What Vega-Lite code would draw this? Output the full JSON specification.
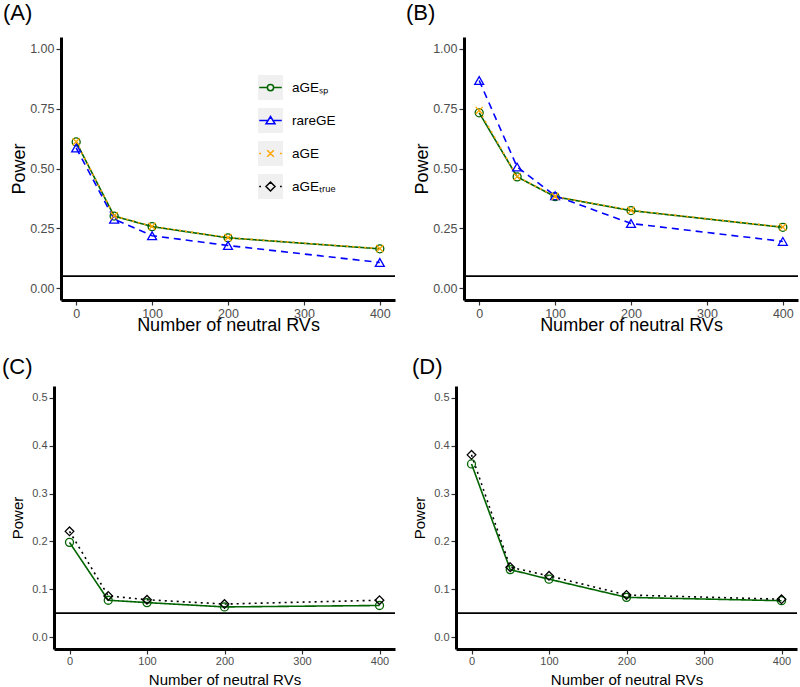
{
  "$schema": "https://vega.github.io/schema/vega-lite/v6.json",
  "padding": {"left": 2, "top": 1, "right": 0, "bottom": 0},
  "datasets": {
    "pw": [
      {"panel": "A", "method": "aGEsp", "x": 0, "power": 0.611},
      {"panel": "A", "method": "aGEsp", "x": 50, "power": 0.301},
      {"panel": "A", "method": "aGEsp", "x": 100, "power": 0.257},
      {"panel": "A", "method": "aGEsp", "x": 200, "power": 0.210},
      {"panel": "A", "method": "aGEsp", "x": 400, "power": 0.164},
      {"panel": "A", "method": "rareGE", "x": 0, "power": 0.586},
      {"panel": "A", "method": "rareGE", "x": 50, "power": 0.288},
      {"panel": "A", "method": "rareGE", "x": 100, "power": 0.219},
      {"panel": "A", "method": "rareGE", "x": 200, "power": 0.178},
      {"panel": "A", "method": "rareGE", "x": 400, "power": 0.107},
      {"panel": "A", "method": "aGE", "x": 0, "power": 0.612},
      {"panel": "A", "method": "aGE", "x": 50, "power": 0.302},
      {"panel": "A", "method": "aGE", "x": 100, "power": 0.258},
      {"panel": "A", "method": "aGE", "x": 200, "power": 0.211},
      {"panel": "A", "method": "aGE", "x": 400, "power": 0.165},
      {"panel": "B", "method": "aGEsp", "x": 0, "power": 0.733},
      {"panel": "B", "method": "aGEsp", "x": 50, "power": 0.465},
      {"panel": "B", "method": "aGEsp", "x": 100, "power": 0.382},
      {"panel": "B", "method": "aGEsp", "x": 200, "power": 0.324},
      {"panel": "B", "method": "aGEsp", "x": 400, "power": 0.254},
      {"panel": "B", "method": "rareGE", "x": 0, "power": 0.868},
      {"panel": "B", "method": "rareGE", "x": 50, "power": 0.506},
      {"panel": "B", "method": "rareGE", "x": 100, "power": 0.386},
      {"panel": "B", "method": "rareGE", "x": 200, "power": 0.270},
      {"panel": "B", "method": "rareGE", "x": 400, "power": 0.195},
      {"panel": "B", "method": "aGE", "x": 0, "power": 0.743},
      {"panel": "B", "method": "aGE", "x": 50, "power": 0.466},
      {"panel": "B", "method": "aGE", "x": 100, "power": 0.383},
      {"panel": "B", "method": "aGE", "x": 200, "power": 0.325},
      {"panel": "B", "method": "aGE", "x": 400, "power": 0.255},
      {"panel": "C", "method": "aGEsp", "x": 0, "power": 0.198},
      {"panel": "C", "method": "aGEsp", "x": 50, "power": 0.077},
      {"panel": "C", "method": "aGEsp", "x": 100, "power": 0.072},
      {"panel": "C", "method": "aGEsp", "x": 200, "power": 0.063},
      {"panel": "C", "method": "aGEsp", "x": 400, "power": 0.066},
      {"panel": "C", "method": "aGEtrue", "x": 0, "power": 0.221},
      {"panel": "C", "method": "aGEtrue", "x": 50, "power": 0.086},
      {"panel": "C", "method": "aGEtrue", "x": 100, "power": 0.078},
      {"panel": "C", "method": "aGEtrue", "x": 200, "power": 0.069},
      {"panel": "C", "method": "aGEtrue", "x": 400, "power": 0.077},
      {"panel": "D", "method": "aGEsp", "x": 0, "power": 0.362},
      {"panel": "D", "method": "aGEsp", "x": 50, "power": 0.141},
      {"panel": "D", "method": "aGEsp", "x": 100, "power": 0.121},
      {"panel": "D", "method": "aGEsp", "x": 200, "power": 0.083},
      {"panel": "D", "method": "aGEsp", "x": 400, "power": 0.076},
      {"panel": "D", "method": "aGEtrue", "x": 0, "power": 0.381},
      {"panel": "D", "method": "aGEtrue", "x": 50, "power": 0.146},
      {"panel": "D", "method": "aGEtrue", "x": 100, "power": 0.128},
      {"panel": "D", "method": "aGEtrue", "x": 200, "power": 0.088},
      {"panel": "D", "method": "aGEtrue", "x": 400, "power": 0.079}
    ],
    "lg": [
      {"key": "aGEₛₚ", "name": "k1"},
      {"key": "rareGE", "name": "k2"},
      {"key": "aGE", "name": "k3"},
      {"key": "aGEₜᵣᵤₑ", "name": "k4"}
    ]
  },
  "vconcat": [
    {
      "hconcat": [
        {
          "title": {"text": "(A)", "offset": 12.5, "dx": -7},
          "width": 341, "height": 263,
          "layer": [
            {"data": {"values": [{}]}, "mark": {"type": "rule", "color": "#000000", "strokeWidth": 1.8}, "encoding": {"y": {"datum": 0.05, "type": "quantitative"}, "x": {"datum": -20, "type": "quantitative"}, "x2": {"datum": 420}}},
            {"data": {"name": "pw"}, "transform": [{"filter": "datum.panel === 'A'"}],
             "mark": {"type": "line", "strokeWidth": 1.6},
             "encoding": {
               "x": {"field": "x", "type": "quantitative", "scale": {"domain": [-20, 420], "range": [7, 341], "nice": false, "zero": false}, "axis": {"values": [0, 100, 200, 300, 400], "title": "Number of neutral RVs", "titleFontSize": 18, "labelFontSize": 12.5, "titleX": 174, "titleY": 30, "titleBaseline": "alphabetic", "labelFlush": false, "labelPadding": 2}},
               "y": {"field": "power", "type": "quantitative", "scale": {"domain": [-0.05, 1.05], "nice": false, "zero": false}, "axis": {"values": [0, 0.25, 0.5, 0.75, 1], "format": ".2f", "title": "Power", "titleFontSize": 18, "labelFontSize": 12.5, "titleX": -37, "titleY": 131.5, "titleBaseline": "alphabetic", "titleAngle": 270, "labelFlush": false, "offset": -7}},
               "color": {"field": "method", "type": "nominal", "scale": {"domain": ["aGEsp", "rareGE", "aGE", "aGEtrue"], "range": ["#006400", "#0000FF", "#FFA500", "#000000"]}, "legend": null},
               "strokeDash": {"field": "method", "type": "nominal", "scale": {"domain": ["aGEsp", "rareGE", "aGE", "aGEtrue"], "range": [[1, 0], [7, 5], [2, 4], [2, 4]]}, "legend": null}
             }},
            {"data": {"name": "pw"}, "transform": [{"filter": "datum.panel === 'A' && datum.method === 'aGEsp'"}],
             "mark": {"type": "point", "shape": "circle", "size": 64, "filled": false, "strokeWidth": 1.3, "opacity": 1, "color": "#006400"},
             "encoding": {"x": {"field": "x", "type": "quantitative"}, "y": {"field": "power", "type": "quantitative"}}},
            {"data": {"name": "pw"}, "transform": [{"filter": "datum.panel === 'A' && datum.method === 'rareGE'"}],
             "mark": {"type": "point", "shape": "triangle-up", "size": 80, "filled": false, "strokeWidth": 1.3, "opacity": 1, "color": "#0000FF"},
             "encoding": {"x": {"field": "x", "type": "quantitative"}, "y": {"field": "power", "type": "quantitative"}}},
            {"data": {"name": "pw"}, "transform": [{"filter": "datum.panel === 'A' && datum.method === 'aGE'"}],
             "mark": {"type": "point", "shape": "M-1,-1L1,1M-1,1L1,-1", "size": 50, "filled": false, "strokeWidth": 1.3, "opacity": 1, "color": "#FFA500"},
             "encoding": {"x": {"field": "x", "type": "quantitative"}, "y": {"field": "power", "type": "quantitative"}}},
            {"data": {"name": "lg"},
             "mark": {"type": "square", "opacity": 0},
             "encoding": {
               "fill": {"field": "name", "type": "nominal", "scale": {"range": ["#f0f0f0", "#f0f0f0", "#f0f0f0", "#f0f0f0"]},
                        "legend": {"orient": "none", "legendX": 203, "legendY": 37, "title": null, "symbolType": "square", "symbolSize": 625, "symbolStrokeColor": "transparent", "symbolStrokeWidth": 1.5, "labelExpr": "''", "labelFontSize": 13, "rowPadding": 2, "padding": 0}}
             }},
            {"data": {"name": "lg"},
             "mark": {"type": "point", "filled": false, "opacity": 0},
             "encoding": {
               "stroke": {"field": "key", "type": "nominal", "scale": {"domain": ["aGEₛₚ", "rareGE", "aGE", "aGEₜᵣᵤₑ"], "range": ["#006400", "#0000FF", "#FFA500", "#000000"]},
                          "legend": {"orient": "none", "legendX": 203, "legendY": 37, "title": null, "symbolSize": 625, "symbolStrokeWidth": 1.5, "labelFontSize": 13.5, "labelColor": "#000000", "labelOffset": 8, "rowPadding": 2, "padding": 0}},
               "shape": {"field": "key", "type": "nominal", "scale": {"domain": ["aGEₛₚ", "rareGE", "aGE", "aGEₜᵣᵤₑ"], "range": ["M0,-1M0,1M-0.9,0L-0.25,0M0.25,0L0.9,0M-0.25,0A0.25,0.25 0 1,1 0.25,0A0.25,0.25 0 1,1 -0.25,0Z", "M0,-1M0,1M-0.9,0L-0.22,0M0.22,0L0.9,0M0,-0.32L0.36,0.26L-0.36,0.26Z", "M0,-1M0,1M-0.9,0L-0.76,0M0.76,0L0.9,0M-0.26,-0.26L0.26,0.26M-0.26,0.26L0.26,-0.26", "M0,-1M0,1M-0.9,0L-0.76,0M0.76,0L0.9,0M0,-0.36L0.36,0L0,0.36L-0.36,0Z"]},
                         "legend": {"orient": "none", "legendX": 203, "legendY": 37, "title": null, "symbolSize": 625, "symbolStrokeWidth": 1.5, "labelFontSize": 13.5, "labelColor": "#000000", "labelOffset": 8, "rowPadding": 2, "padding": 0}}
             }}
          ]
        },
        {
          "title": {"text": "(B)", "offset": 12.5, "dx": -7},
          "width": 334, "height": 263,
          "layer": [
            {"data": {"values": [{}]}, "mark": {"type": "rule", "color": "#000000", "strokeWidth": 1.8}, "encoding": {"y": {"datum": 0.05, "type": "quantitative"}}},
            {"data": {"name": "pw"}, "transform": [{"filter": "datum.panel === 'B'"}],
             "mark": {"type": "line", "strokeWidth": 1.6},
             "encoding": {
               "x": {"field": "x", "type": "quantitative", "scale": {"domain": [-20, 420], "nice": false, "zero": false}, "axis": {"values": [0, 100, 200, 300, 400], "title": "Number of neutral RVs", "titleFontSize": 18, "labelFontSize": 12.5, "titleX": 167, "titleY": 30, "titleBaseline": "alphabetic", "labelFlush": false, "labelPadding": 2}},
               "y": {"field": "power", "type": "quantitative", "scale": {"domain": [-0.05, 1.05], "nice": false, "zero": false}, "axis": {"values": [0, 0.25, 0.5, 0.75, 1], "format": ".2f", "title": "Power", "titleFontSize": 18, "labelFontSize": 12.5, "titleX": -37, "titleY": 131.5, "titleBaseline": "alphabetic", "titleAngle": 270, "labelFlush": false}},
               "color": {"field": "method", "type": "nominal", "scale": {"domain": ["aGEsp", "rareGE", "aGE", "aGEtrue"], "range": ["#006400", "#0000FF", "#FFA500", "#000000"]}, "legend": null},
               "strokeDash": {"field": "method", "type": "nominal", "scale": {"domain": ["aGEsp", "rareGE", "aGE", "aGEtrue"], "range": [[1, 0], [7, 5], [2, 4], [2, 4]]}, "legend": null}
             }},
            {"data": {"name": "pw"}, "transform": [{"filter": "datum.panel === 'B' && datum.method === 'aGEsp'"}],
             "mark": {"type": "point", "shape": "circle", "size": 64, "filled": false, "strokeWidth": 1.3, "opacity": 1, "color": "#006400"},
             "encoding": {"x": {"field": "x", "type": "quantitative"}, "y": {"field": "power", "type": "quantitative"}}},
            {"data": {"name": "pw"}, "transform": [{"filter": "datum.panel === 'B' && datum.method === 'rareGE'"}],
             "mark": {"type": "point", "shape": "triangle-up", "size": 80, "filled": false, "strokeWidth": 1.3, "opacity": 1, "color": "#0000FF"},
             "encoding": {"x": {"field": "x", "type": "quantitative"}, "y": {"field": "power", "type": "quantitative"}}},
            {"data": {"name": "pw"}, "transform": [{"filter": "datum.panel === 'B' && datum.method === 'aGE'"}],
             "mark": {"type": "point", "shape": "M-1,-1L1,1M-1,1L1,-1", "size": 50, "filled": false, "strokeWidth": 1.3, "opacity": 1, "color": "#FFA500"},
             "encoding": {"x": {"field": "x", "type": "quantitative"}, "y": {"field": "power", "type": "quantitative"}}}
          ]
        }
      ],
      "spacing": 10,
      "resolve": {"scale": {"color": "independent", "strokeDash": "independent", "fill": "independent", "stroke": "independent", "shape": "independent"}}
    },
    {
      "hconcat": [
        {
          "title": {"text": "(C)", "offset": 7, "dx": -8},
          "width": 341, "height": 263,
          "layer": [
            {"data": {"values": [{}]}, "mark": {"type": "rule", "color": "#000000", "strokeWidth": 1.8}, "encoding": {"y": {"datum": 0.05, "type": "quantitative"}}},
            {"data": {"name": "pw"}, "transform": [{"filter": "datum.panel === 'C'"}],
             "mark": {"type": "line", "strokeWidth": 1.6},
             "encoding": {
               "x": {"field": "x", "type": "quantitative", "scale": {"domain": [-20, 420], "nice": false, "zero": false}, "axis": {"values": [0, 100, 200, 300, 400], "title": "Number of neutral RVs", "titleFontSize": 15, "labelFontSize": 11, "titleX": 170.5, "titleY": 35, "titleBaseline": "alphabetic", "labelFlush": false, "labelPadding": 1}},
               "y": {"field": "power", "type": "quantitative", "scale": {"domain": [-0.025, 0.525], "nice": false, "zero": false}, "axis": {"values": [0, 0.1, 0.2, 0.3, 0.4, 0.5], "format": ".1f", "title": "Power", "titleFontSize": 15, "labelFontSize": 11, "titleX": -32, "titleY": 131.5, "titleBaseline": "alphabetic", "titleAngle": 270, "labelFlush": false}},
               "color": {"field": "method", "type": "nominal", "scale": {"domain": ["aGEsp", "rareGE", "aGE", "aGEtrue"], "range": ["#006400", "#0000FF", "#FFA500", "#000000"]}, "legend": null},
               "strokeDash": {"field": "method", "type": "nominal", "scale": {"domain": ["aGEsp", "rareGE", "aGE", "aGEtrue"], "range": [[1, 0], [7, 5], [2, 4], [2, 4]]}, "legend": null}
             }},
            {"data": {"name": "pw"}, "transform": [{"filter": "datum.panel === 'C' && datum.method === 'aGEsp'"}],
             "mark": {"type": "point", "shape": "circle", "size": 64, "filled": false, "strokeWidth": 1.3, "opacity": 1, "color": "#006400"},
             "encoding": {"x": {"field": "x", "type": "quantitative"}, "y": {"field": "power", "type": "quantitative"}}},
            {"data": {"name": "pw"}, "transform": [{"filter": "datum.panel === 'C' && datum.method === 'aGEtrue'"}],
             "mark": {"type": "point", "shape": "diamond", "size": 75, "filled": false, "strokeWidth": 1.3, "opacity": 1, "color": "#000000"},
             "encoding": {"x": {"field": "x", "type": "quantitative"}, "y": {"field": "power", "type": "quantitative"}}}
          ]
        },
        {
          "title": {"text": "(D)", "offset": 7, "dx": 0},
          "width": 341, "height": 263,
          "layer": [
            {"data": {"values": [{}]}, "mark": {"type": "rule", "color": "#000000", "strokeWidth": 1.8}, "encoding": {"y": {"datum": 0.05, "type": "quantitative"}}},
            {"data": {"name": "pw"}, "transform": [{"filter": "datum.panel === 'D'"}],
             "mark": {"type": "line", "strokeWidth": 1.6},
             "encoding": {
               "x": {"field": "x", "type": "quantitative", "scale": {"domain": [-20, 420], "nice": false, "zero": false}, "axis": {"values": [0, 100, 200, 300, 400], "title": "Number of neutral RVs", "titleFontSize": 15, "labelFontSize": 11, "titleX": 170.5, "titleY": 35, "titleBaseline": "alphabetic", "labelFlush": false, "labelPadding": 1}},
               "y": {"field": "power", "type": "quantitative", "scale": {"domain": [-0.025, 0.525], "nice": false, "zero": false}, "axis": {"values": [0, 0.1, 0.2, 0.3, 0.4, 0.5], "format": ".1f", "title": "Power", "titleFontSize": 15, "labelFontSize": 11, "titleX": -32, "titleY": 131.5, "titleBaseline": "alphabetic", "titleAngle": 270, "labelFlush": false}},
               "color": {"field": "method", "type": "nominal", "scale": {"domain": ["aGEsp", "rareGE", "aGE", "aGEtrue"], "range": ["#006400", "#0000FF", "#FFA500", "#000000"]}, "legend": null},
               "strokeDash": {"field": "method", "type": "nominal", "scale": {"domain": ["aGEsp", "rareGE", "aGE", "aGEtrue"], "range": [[1, 0], [7, 5], [2, 4], [2, 4]]}, "legend": null}
             }},
            {"data": {"name": "pw"}, "transform": [{"filter": "datum.panel === 'D' && datum.method === 'aGEsp'"}],
             "mark": {"type": "point", "shape": "circle", "size": 64, "filled": false, "strokeWidth": 1.3, "opacity": 1, "color": "#006400"},
             "encoding": {"x": {"field": "x", "type": "quantitative"}, "y": {"field": "power", "type": "quantitative"}}},
            {"data": {"name": "pw"}, "transform": [{"filter": "datum.panel === 'D' && datum.method === 'aGEtrue'"}],
             "mark": {"type": "point", "shape": "diamond", "size": 75, "filled": false, "strokeWidth": 1.3, "opacity": 1, "color": "#000000"},
             "encoding": {"x": {"field": "x", "type": "quantitative"}, "y": {"field": "power", "type": "quantitative"}}}
          ]
        }
      ],
      "spacing": 16,
      "resolve": {"scale": {"color": "independent", "strokeDash": "independent"}}
    }
  ],
  "spacing": 22,
  "resolve": {"scale": {"color": "independent", "strokeDash": "independent", "fill": "independent", "stroke": "independent", "shape": "independent"}},
  "config": {
    "font": "Liberation Sans",
    "view": {"stroke": null},
    "axis": {"grid": false, "domainColor": "#000000", "domainWidth": 3, "tickColor": "#333333", "tickWidth": 1.2, "tickSize": 5, "labelColor": "#4d4d4d", "titleColor": "#000000", "titleFontWeight": "normal", "labelPadding": 2},
    "title": {"fontSize": 22, "fontWeight": "normal", "anchor": "start", "frame": "bounds", "baseline": "alphabetic", "color": "#000000"}
  }
}
